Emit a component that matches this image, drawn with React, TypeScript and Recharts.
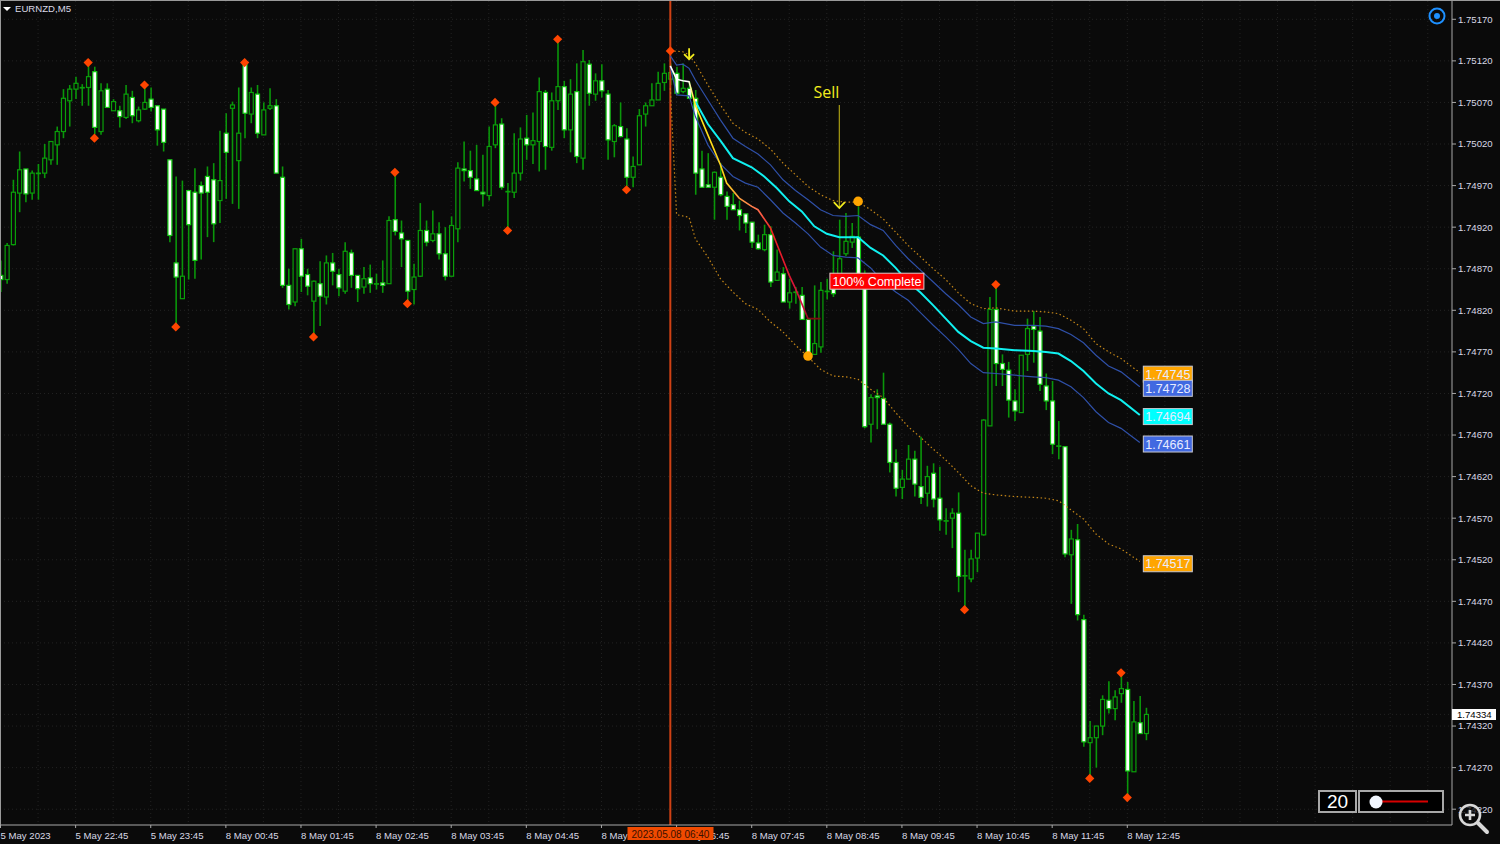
/**
 * EURNZD M5 chart with a regression-channel indicator, dark terminal look.
 * Candles are Bars over [low, high]; the shape splits the pixel range for the body.
 */
import {
  Bar,
  CartesianGrid,
  ComposedChart,
  Line,
  ReferenceDot,
  ReferenceLine,
  XAxis,
  YAxis,
} from 'recharts';

const OPENS = [
  1.74862, 1.74857, 1.74899, 1.74961, 1.7499, 1.74961, 1.74985, 1.74985, 1.75001, 1.75019,
  1.75035, 1.75072, 1.75086, 1.75088, 1.75088, 1.75107, 1.75035, 1.75086, 1.7506, 1.7506,
  1.75052, 1.75076, 1.75048, 1.75062, 1.75074, 1.75066, 1.75062, 1.75001, 1.74877, 1.74834,
  1.74964, 1.74962, 1.7497, 1.74981, 1.74977, 1.74952, 1.75033, 1.75063, 1.75, 1.75117,
  1.75056, 1.7508, 1.75031, 1.75063, 1.75066, 1.7498, 1.7485, 1.7483, 1.74894, 1.74863,
  1.74831, 1.74852, 1.74836, 1.74877, 1.74863, 1.74843, 1.74889, 1.74862, 1.74848, 1.74859,
  1.74852, 1.74853, 1.74852, 1.74929, 1.74913, 1.74904, 1.74845, 1.74861, 1.74916, 1.74904,
  1.74912, 1.74888, 1.74861, 1.74918, 1.7499, 1.74988, 1.74978, 1.74962, 1.74958, 1.75019,
  1.75044, 1.74963, 1.74962, 1.74985, 1.75027, 1.75019, 1.75023, 1.75082, 1.75016, 1.75072,
  1.75089, 1.75037, 1.75083, 1.75003, 1.75116, 1.7508, 1.75096, 1.7508, 1.75023, 1.75041,
  1.75026, 1.7498, 1.74995, 1.75056, 1.75066, 1.75073, 1.75094, 1.75098, 1.75105, 1.75083,
  1.75087, 1.75075, 1.7499, 1.74971, 1.74968, 1.7498, 1.74957, 1.74947, 1.74941, 1.74936,
  1.74926, 1.74901, 1.74893, 1.74911, 1.74856, 1.74864, 1.7483, 1.74842, 1.74838, 1.74809,
  1.74767, 1.74776, 1.74843, 1.74846, 1.7486, 1.74888, 1.74902, 1.74908, 1.74862, 1.74683,
  1.74717, 1.74714, 1.74683, 1.74637, 1.74607, 1.74617, 1.74641, 1.74608, 1.746, 1.74624,
  1.74594, 1.74567, 1.7457, 1.74576, 1.74501, 1.74497, 1.74522, 1.7455, 1.74681, 1.74821,
  1.74756, 1.74748, 1.74711, 1.74697, 1.74767, 1.74801, 1.74795, 1.74729, 1.74711, 1.74657,
  1.74656, 1.74526, 1.74544, 1.74448, 1.743, 1.74306, 1.7432, 1.74351, 1.74341, 1.74359,
  1.74364, 1.74265, 1.74324, 1.74311,
];
const HIGHS = [
  1.7488, 1.74901, 1.74977, 1.75011, 1.7499, 1.74988, 1.74996, 1.7502, 1.75023, 1.75041,
  1.75086, 1.75091, 1.75101, 1.75092, 1.75117, 1.75113, 1.75093, 1.75093, 1.75074, 1.75066,
  1.75091, 1.75084, 1.75065, 1.75091, 1.75088, 1.75066, 1.75062, 1.75001, 1.74981, 1.74976,
  1.74964, 1.74991, 1.74975, 1.74993, 1.74997, 1.75036, 1.75057, 1.75071, 1.75088, 1.75117,
  1.75088, 1.75091, 1.7507, 1.75087, 1.75074, 1.74993, 1.7487, 1.74894, 1.74906, 1.7487,
  1.74856, 1.74879, 1.74886, 1.74889, 1.7487, 1.74902, 1.74893, 1.74862, 1.74872, 1.74875,
  1.74864, 1.7488, 1.74933, 1.74985, 1.74928, 1.74904, 1.74876, 1.74949, 1.74928, 1.7494,
  1.74926, 1.7492, 1.74933, 1.74998, 1.75023, 1.75012, 1.75019, 1.75007, 1.75041, 1.7507,
  1.75051, 1.74973, 1.75033, 1.7504, 1.75055, 1.75058, 1.751, 1.75085, 1.75082, 1.75145,
  1.75096, 1.75098, 1.75117, 1.75133, 1.75121, 1.75105, 1.75116, 1.75085, 1.75044, 1.7507,
  1.75039, 1.75005, 1.75062, 1.7507, 1.75093, 1.75107, 1.75117, 1.75117, 1.75113, 1.75117,
  1.75095, 1.75085, 1.75012, 1.75009, 1.74987, 1.74997, 1.74963, 1.74961, 1.74952, 1.74936,
  1.74926, 1.74911, 1.74923, 1.74921, 1.74893, 1.74872, 1.74858, 1.74848, 1.74848, 1.74809,
  1.7485, 1.74854, 1.74858, 1.74891, 1.74929, 1.74937, 1.74925, 1.74945, 1.74868, 1.74719,
  1.74725, 1.74745, 1.74685, 1.74653, 1.74628, 1.74658, 1.74651, 1.74668, 1.74633, 1.74636,
  1.74632, 1.74582, 1.74582, 1.74601, 1.74532, 1.74532, 1.74552, 1.74689, 1.74836, 1.74848,
  1.74767, 1.74758, 1.74725, 1.74766, 1.7481, 1.74819, 1.74812, 1.74744, 1.74735, 1.74687,
  1.74656, 1.74556, 1.74563, 1.74454, 1.74326, 1.7432, 1.74357, 1.74374, 1.74363, 1.74381,
  1.74373, 1.7435, 1.74356, 1.74342,
];
const LOWS = [
  1.74842, 1.74852, 1.74898, 1.74938, 1.7495, 1.74953, 1.74953, 1.74979, 1.74995, 1.74995,
  1.75027, 1.75041, 1.75074, 1.75066, 1.75066, 1.75032, 1.75031, 1.75064, 1.7506, 1.7504,
  1.7505, 1.75045, 1.75046, 1.75061, 1.75059, 1.75018, 1.75011, 1.74902, 1.74802, 1.74834,
  1.74857, 1.74858, 1.74881, 1.74908, 1.74902, 1.74925, 1.74954, 1.74948, 1.74942, 1.75027,
  1.75045, 1.75027, 1.75031, 1.75061, 1.74985, 1.74847, 1.74821, 1.74825, 1.74842, 1.74838,
  1.7479, 1.74801, 1.74827, 1.7485, 1.74837, 1.7484, 1.74847, 1.7483, 1.7484, 1.74841,
  1.74845, 1.74841, 1.74852, 1.7491, 1.74872, 1.7483, 1.74827, 1.7486, 1.74897, 1.74902,
  1.74881, 1.74856, 1.74861, 1.74902, 1.74975, 1.74966, 1.74964, 1.74945, 1.74952, 1.75015,
  1.74965, 1.74916, 1.74955, 1.74976, 1.75001, 1.74996, 1.74987, 1.74989, 1.75012, 1.75061,
  1.75027, 1.7501, 1.74997, 1.74989, 1.75066, 1.75072, 1.75076, 1.75001, 1.75004, 1.75028,
  1.74969, 1.74968, 1.74995, 1.75041, 1.75066, 1.75073, 1.75084, 1.75091, 1.75079, 1.75081,
  1.75075, 1.74959, 1.74968, 1.74968, 1.74929, 1.74957, 1.74929, 1.74941, 1.74916, 1.74913,
  1.74895, 1.74893, 1.74891, 1.74848, 1.74856, 1.7483, 1.74822, 1.74828, 1.74809, 1.74762,
  1.74767, 1.74769, 1.74833, 1.74836, 1.74858, 1.74885, 1.74895, 1.7486, 1.74678, 1.74661,
  1.74677, 1.74683, 1.74625, 1.74596, 1.74593, 1.74617, 1.74596, 1.74587, 1.74584, 1.74583,
  1.74555, 1.7455, 1.74534, 1.74481, 1.74463, 1.74493, 1.74505, 1.74549, 1.74681, 1.74729,
  1.74729, 1.74691, 1.74687, 1.74697, 1.74747, 1.74757, 1.74723, 1.747, 1.74647, 1.74641,
  1.74523, 1.74467, 1.74447, 1.74295, 1.74259, 1.7427, 1.74309, 1.74335, 1.74327, 1.74348,
  1.74237, 1.74265, 1.74311, 1.74303,
];
const CLOSES = [
  1.74857, 1.74898, 1.74962, 1.74989, 1.7496, 1.74985, 1.74985, 1.75003, 1.75023, 1.75035,
  1.75075, 1.75086, 1.75093, 1.75088, 1.75101, 1.7504, 1.75084, 1.75064, 1.75071, 1.75053,
  1.7508, 1.75054, 1.75061, 1.7507, 1.75064, 1.75037, 1.75022, 1.7491, 1.7486, 1.74861,
  1.74923, 1.7488, 1.74961, 1.74962, 1.74924, 1.74976, 1.7501, 1.75067, 1.75033, 1.75057,
  1.75082, 1.75033, 1.75061, 1.75066, 1.74985, 1.7485, 1.74827, 1.74894, 1.74861, 1.74849,
  1.74855, 1.74837, 1.74877, 1.74867, 1.74847, 1.74891, 1.74862, 1.74846, 1.74858, 1.74852,
  1.74852, 1.7485, 1.74928, 1.74915, 1.74906, 1.74843, 1.7486, 1.74916, 1.74902, 1.74912,
  1.74888, 1.74861, 1.74922, 1.74991, 1.74988, 1.7498, 1.74964, 1.7496, 1.75017, 1.75043,
  1.74968, 1.74963, 1.74985, 1.75026, 1.75019, 1.75024, 1.75083, 1.75017, 1.75072, 1.75089,
  1.75037, 1.7508, 1.75005, 1.75119, 1.75081, 1.75096, 1.75084, 1.75025, 1.75042, 1.75029,
  1.7498, 1.74993, 1.75054, 1.75066, 1.75073, 1.75093, 1.75105, 1.75106, 1.75081, 1.75087,
  1.75075, 1.74985, 1.74968, 1.74968, 1.74986, 1.74959, 1.74945, 1.74941, 1.74934, 1.74925,
  1.74902, 1.74894, 1.74911, 1.74854, 1.74866, 1.7483, 1.74841, 1.74842, 1.74809, 1.74769,
  1.7478, 1.74844, 1.74843, 1.7484, 1.74882, 1.74903, 1.74909, 1.74862, 1.7468, 1.74715,
  1.74715, 1.74683, 1.74637, 1.74606, 1.74617, 1.74641, 1.74611, 1.74595, 1.7462, 1.74593,
  1.74568, 1.74567, 1.74576, 1.745, 1.74501, 1.74521, 1.74552, 1.74688, 1.74821, 1.74756,
  1.74749, 1.74712, 1.74699, 1.74766, 1.74798, 1.74797, 1.74731, 1.74711, 1.74659, 1.74657,
  1.74527, 1.74545, 1.74454, 1.74301, 1.74306, 1.7432, 1.74352, 1.74341, 1.74355, 1.74365,
  1.74266, 1.74325, 1.74311, 1.74334,
];

// bands: bar index of each reading, then the reading
const TAIL_IDX = [139, 141, 143, 145, 147, 149, 151, 153, 155, 157, 159, 162, 165, 167, 169, 171, 173, 175, 177, 179, 182];
const STEP_IDX = [111, 113, 115, 117, 119, 121, 123, 125, 127, 129, 131, 133, 135, 137];

const UPPER_DOT_IDX = [107, 109, 110, ...STEP_IDX, ...TAIL_IDX];
const UPPER_DOT = [
  1.75132, 1.75131, 1.75127, 1.75117, 1.75091, 1.75067, 1.75045, 1.75034, 1.75026, 1.75014, 1.74997, 1.74983, 1.74969,
  1.74959, 1.74952, 1.7495, 1.7495, 1.74941, 1.7493, 1.74914, 1.74898, 1.74884, 1.7487, 1.74857, 1.74841, 1.74828,
  1.74822, 1.74823, 1.74819, 1.74819, 1.74818, 1.74816, 1.74808, 1.74798, 1.7478, 1.7477, 1.74762, 1.74745,
];
const UPPER_IDX = [107, 108, 109, 110, ...STEP_IDX, ...TAIL_IDX];
const UPPER = [
  1.75126, 1.75115, 1.75116, 1.75111, 1.75097, 1.75073, 1.75049, 1.75027, 1.75017, 1.75008, 1.74995, 1.74977, 1.74964,
  1.74953, 1.74941, 1.74934, 1.74933, 1.74934, 1.74923, 1.74916, 1.74898, 1.74882, 1.74868, 1.74854, 1.7484, 1.74827,
  1.74812, 1.74804, 1.74806, 1.74802, 1.74802, 1.74801, 1.74798, 1.74791, 1.74781, 1.74766, 1.74753, 1.74746, 1.74728,
];
const MIDDLE_IDX = [111, 113, 115, 117, 120, 122, 124, 126, 128, 130, 132, 134, 137, ...TAIL_IDX];
const MIDDLE = [
  1.75071, 1.75044, 1.75024, 1.75003, 1.74992, 1.74981, 1.74967, 1.74951, 1.74939, 1.74921, 1.74912, 1.74908, 1.74908,
  1.74895, 1.74886, 1.74871, 1.74854, 1.74841, 1.74826, 1.7481, 1.74794, 1.74783, 1.74775, 1.74774, 1.74772, 1.74771,
  1.7477, 1.74768, 1.74759, 1.74747, 1.74732, 1.7472, 1.74712, 1.74694,
];
const LOWER_IDX = [107, 108, 110, ...STEP_IDX, ...TAIL_IDX];
const LOWER = [
  1.75113, 1.75079, 1.75078, 1.75053, 1.75019, 1.74996, 1.74981, 1.74973, 1.74968, 1.74953, 1.74937, 1.74925, 1.74912,
  1.74896, 1.74886, 1.74884, 1.74883, 1.74871, 1.74854, 1.74842, 1.74832, 1.74817, 1.74802, 1.74788, 1.74773, 1.74756,
  1.74745, 1.74744, 1.74742, 1.7474, 1.74739, 1.74736, 1.74728, 1.74715, 1.74698, 1.74685, 1.74678, 1.74661,
];
const LOWER_DOT_IDX = [107, 108, 110, ...STEP_IDX, ...TAIL_IDX];
const LOWER_DOT = [
  1.75087, 1.74935, 1.74932, 1.74906, 1.74884, 1.74858, 1.74842, 1.74828, 1.74821, 1.74806, 1.74794, 1.74778, 1.74764,
  1.74749, 1.74741, 1.7474, 1.74737, 1.74725, 1.74715, 1.74697, 1.7468, 1.74667, 1.74653, 1.7464, 1.74625, 1.74609,
  1.746, 1.74598, 1.74596, 1.74595, 1.74594, 1.74591, 1.7458, 1.74569, 1.74551, 1.74539, 1.74533, 1.74518,
];
const TARGET_IDX = [107, 108, 109, 110, 111, 113, 115, 116, 118, 120, 121, 123, 124, 126, 127, 128, 129, 131];
const TARGET = [
  1.75114, 1.75098, 1.75096, 1.75095, 1.75067, 1.75031, 1.74995, 1.74973, 1.74955, 1.74945, 1.74941, 1.74919, 1.749,
  1.74862, 1.74846, 1.74828, 1.7481, 1.7481,
];

const DIAMOND_IDX = [14, 15, 23, 28, 39, 50, 63, 65, 79, 81, 89, 100, 107, 154, 159, 174, 179, 180];
const DIAMONDS = [
  1.75118, 1.75027, 1.75091, 1.748, 1.75118, 1.74788, 1.74986, 1.74828, 1.7507, 1.74916, 1.75146, 1.74965, 1.75132,
  1.7446, 1.74851, 1.74257, 1.74384, 1.74234,
];
const SWING_IDX = [129, 137];
const SWINGS = [1.74765, 1.74951];

const BID = 1.74334;
const PRICE_TICKS = [
  1.7517, 1.7512, 1.7507, 1.7502, 1.7497, 1.7492, 1.7487, 1.7482, 1.7477, 1.7472, 1.7467, 1.7462, 1.7457, 1.7452,
  1.7447, 1.7442, 1.7437, 1.7432, 1.7427, 1.7422,
];
const TIME_TICKS = [0, 12, 24, 36, 48, 60, 72, 84, 96, 108, 120, 132, 144, 156, 168, 180];
const TIME_LABELS = [
  '5 May 2023', '5 May 22:45', '5 May 23:45', '8 May 00:45', '8 May 01:45', '8 May 02:45', '8 May 03:45', '8 May 04:45',
  '8 May 05:45', '8 May 06:45', '8 May 07:45', '8 May 08:45', '8 May 09:45', '8 May 10:45', '8 May 11:45', '8 May 12:45',
];
const GRID_X = Array.from({ length: 39 }, (_, k) => k * 6);

const at = (idx: number[], vals: number[], i: number) => {
  const k = idx.indexOf(i);
  return k < 0 ? null : vals[k];
};

const rows = OPENS.map((open, i) => ({
  i,
  open,
  high: HIGHS[i],
  low: LOWS[i],
  close: CLOSES[i],
  upperDot: at(UPPER_DOT_IDX, UPPER_DOT, i),
  upper: at(UPPER_IDX, UPPER, i),
  middle: at(MIDDLE_IDX, MIDDLE, i),
  lower: at(LOWER_IDX, LOWER, i),
  lowerDot: at(LOWER_DOT_IDX, LOWER_DOT, i),
  target: at(TARGET_IDX, TARGET, i),
  diamond: at(DIAMOND_IDX, DIAMONDS, i),
  swing: at(SWING_IDX, SWINGS, i),
}));

const FONT = '"Liberation Sans", sans-serif';
const AXIS_TEXT = '#d9d9e6';
const AXIS_LINE = '#a8a8a8';

function Candle(props: any) {
  const { x, y, width, height, payload } = props;
  const { open, close, high, low } = payload;
  const cx = x + width / 2;
  const py = (v: number) => y + ((high - v) / (high - low)) * height;
  const top = py(Math.max(open, close));
  const bot = py(Math.min(open, close));
  const bear = close < open;
  return (
    <g>
      <line x1={cx} x2={cx} y1={y} y2={y + height} stroke="#0a960a" strokeWidth={1.6} />
      <rect
        x={cx - 2}
        y={top}
        width={4}
        height={Math.max(bot - top, 0.5)}
        fill={bear ? '#ffffff' : '#0a0a0a'}
        stroke={bear ? '#14c814' : '#0aa00a'}
        strokeWidth={1.2}
      />
    </g>
  );
}

function diamondDot(props: any) {
  const { cx, cy, index } = props;
  if (cy == null) return <g key={index} />;
  return (
    <polygon
      key={index}
      points={`${cx - 4.6},${cy} ${cx},${cy - 4.6} ${cx + 4.6},${cy} ${cx},${cy + 4.6}`}
      fill="#ff4500"
    />
  );
}

function swingDot(props: any) {
  const { cx, cy, index } = props;
  if (cy == null) return <g key={index} />;
  return <circle key={index} cx={cx} cy={cy} r={4.8} fill="#ffa500" />;
}

function TimeTick(props: any) {
  const { x, y, index } = props;
  return (
    <text x={Math.max(x, 0)} y={y + 8.5} fill={AXIS_TEXT} fontSize={9.6} fontFamily={FONT} textAnchor="start">
      {TIME_LABELS[index]}
    </text>
  );
}

const priceTag = (text: string, bg: string) => (props: any) => {
  const { cx, cy } = props;
  return (
    <g>
      <rect x={cx + 3.5} y={cy - 6.5} width={49} height={16} fill={bg} stroke="#c8c8d0" strokeWidth={1} />
      <text x={cx + 28} y={cy + 6} fill="#e8ecff" fontSize={12.5} fontFamily={FONT} textAnchor="middle">
        {text}
      </text>
    </g>
  );
};

function SellArrow(props: any) {
  const { cx, cy } = props;
  return (
    <g>
      <text x={cx - 13} y={cy - 110} fill="#f2ec1e" fontSize={16} fontFamily='"Open Sans", sans-serif' textAnchor="middle">
        Sell
      </text>
      <line x1={cx} x2={cx} y1={cy - 103} y2={cy} stroke="#a89c14" strokeWidth={1.2} />
      <path d={`M${cx - 5.5},${cy - 6} L${cx},${cy} L${cx + 5.5},${cy - 6}`} fill="none" stroke="#f2ec1e" strokeWidth={1.8} />
    </g>
  );
}

function EntryArrow(props: any) {
  const { cx, cy } = props;
  return (
    <g>
      <line x1={cx} x2={cx} y1={cy - 11} y2={cy} stroke="#f2ec1e" strokeWidth={1.8} />
      <path d={`M${cx - 5},${cy - 5} L${cx},${cy} L${cx + 5},${cy - 5}`} fill="none" stroke="#f2ec1e" strokeWidth={1.8} />
    </g>
  );
}

function CompleteTag(props: any) {
  const { cx, cy } = props;
  return (
    <g>
      <rect x={cx - 47} y={cy - 8} width={94} height={16} fill="#ff0000" stroke="#e0c8c8" strokeWidth={1} />
      <text x={cx} y={cy + 4.5} fill="#ffffff" fontSize={12.5} fontFamily={FONT} textAnchor="middle">
        100% Complete
      </text>
    </g>
  );
}

function Chrome() {
  return (
    <svg width={1500} height={844} style={{ position: 'absolute', left: 0, top: 0, pointerEvents: 'none' }}>
      <line x1={0} x2={1500} y1={0.5} y2={0.5} stroke="#9a9a9a" />
      <line x1={0.5} x2={0.5} y1={0} y2={825} stroke="#9a9a9a" />
      <path d="M3,7 L11,7 L7,11 Z" fill="#ffffff" />
      <text x={15} y={12} fill={AXIS_TEXT} fontSize={9.6} fontFamily={FONT}>EURNZD,M5</text>
      <circle cx={1437} cy={16} r={7.5} fill="none" stroke="#1e90ff" strokeWidth={2} />
      <circle cx={1437} cy={16} r={3} fill="#1e90ff" />

      <rect x={1452} y={709} width={44} height={11} fill="#ffffff" />
      <text x={1457} y={718} fill="#000000" fontSize={9.6} fontFamily={FONT}>1.74334</text>

      <rect x={627.5} y={827} width={86} height={13} fill="#f04a00" />
      <text x={670.5} y={837.5} fill="#3a1000" fontSize={10} fontFamily={FONT} textAnchor="middle">2023.05.08 06:40</text>

      <rect x={1319} y={791} width={37} height={21} fill="#000" stroke="#a8a8a8" strokeWidth={2} />
      <rect x={1359} y={791} width={84} height={21} fill="#000" stroke="#a8a8a8" strokeWidth={2} />
      <text x={1337.5} y={808} fill="#ffffff" fontSize={19} fontFamily={FONT} textAnchor="middle">20</text>
      <line x1={1380} x2={1428} y1={801.5} y2={801.5} stroke="#d80000" strokeWidth={2} />
      <circle cx={1376} cy={802} r={6.5} fill="#f2f7ff" />

      <circle cx={1470} cy={815} r={10} fill="#0a0a0a" fillOpacity={0.75} stroke="#d8d8d8" strokeWidth={2.6} />
      <line x1={1478} x2={1487} y1={823} y2={832} stroke="#d8d8d8" strokeWidth={4} strokeLinecap="round" />
      <path d="M1470,810 V820 M1465,815 H1475" stroke="#d8d8d8" strokeWidth={2.6} />
    </svg>
  );
}

export default function App() {
  return (
    <div style={{ position: 'absolute', left: 0, top: 0, width: 1500, height: 844, background: '#0a0a0a', overflow: 'hidden' }}>
      <ComposedChart width={1500} height={844} data={rows} margin={{ top: 1, right: 0, bottom: 0, left: 0 }}>
        <defs>
          <linearGradient id="targetFade" x1="0" y1="0" x2="1" y2="0">
            <stop offset="0.12" stopColor="#ffffff" />
            <stop offset="0.16" stopColor="#ffe81a" />
            <stop offset="0.36" stopColor="#ffd21a" />
            <stop offset="0.46" stopColor="#ffa040" />
            <stop offset="0.58" stopColor="#ff7050" />
            <stop offset="0.68" stopColor="#f02020" />
            <stop offset="0.88" stopColor="#d01040" />
            <stop offset="0.93" stopColor="#801010" />
            <stop offset="1" stopColor="#801010" />
          </linearGradient>
        </defs>
        <CartesianGrid stroke="#232323" strokeDasharray="1 3" verticalValues={GRID_X} horizontalValues={[...PRICE_TICKS, BID]} />
        <XAxis
          dataKey="i"
          type="number"
          domain={[-0.08, 231.87]}
          allowDataOverflow
          ticks={TIME_TICKS}
          interval={0}
          height={19}
          tickSize={3}
          stroke={AXIS_LINE}
          tick={<TimeTick />}
        />
        <YAxis
          orientation="right"
          domain={[1.74201, 1.75192]}
          allowDataOverflow
          ticks={PRICE_TICKS}
          interval={0}
          width={48}
          tickSize={4}
          stroke={AXIS_LINE}
          tickFormatter={(v: number) => v.toFixed(5)}
          tick={{ fill: AXIS_TEXT, fontSize: 9.6, fontFamily: FONT }}
        />
        <Bar
          dataKey={(d: any) => [d.low, d.high]}
          barSize={5}
          shape={<Candle />}
          isAnimationActive={false}
        />
        <ReferenceLine x={107} stroke="#cf4114" strokeWidth={2} />
        <Line dataKey="upperDot" stroke="#c48618" strokeWidth={1.2} strokeDasharray="1.5 2.5" dot={false} connectNulls isAnimationActive={false} />
        <Line dataKey="lowerDot" stroke="#c48618" strokeWidth={1.2} strokeDasharray="1.5 2.5" dot={false} connectNulls isAnimationActive={false} />
        <Line dataKey="upper" stroke="#2f50a8" strokeWidth={1.2} dot={false} connectNulls isAnimationActive={false} />
        <Line dataKey="lower" stroke="#2f50a8" strokeWidth={1.2} dot={false} connectNulls isAnimationActive={false} />
        <Line dataKey="middle" stroke="#10f0f0" strokeWidth={2} dot={false} connectNulls isAnimationActive={false} />
        <Line dataKey="target" stroke="url(#targetFade)" strokeWidth={1.6} dot={false} connectNulls isAnimationActive={false} />
        <Line dataKey="diamond" stroke="none" dot={diamondDot} isAnimationActive={false} />
        <Line dataKey="swing" stroke="none" dot={swingDot} isAnimationActive={false} />
        <ReferenceDot x={110} y={1.75122} shape={EntryArrow} />
        <ReferenceDot x={134} y={1.74943} shape={SellArrow} />
        <ReferenceDot x={140} y={1.74855} shape={CompleteTag} />
        <ReferenceDot x={182} y={1.74745} shape={priceTag('1.74745', '#ffa500')} />
        <ReferenceDot x={182} y={1.74728} shape={priceTag('1.74728', '#4169e1')} />
        <ReferenceDot x={182} y={1.74694} shape={priceTag('1.74694', '#00ffff')} />
        <ReferenceDot x={182} y={1.74661} shape={priceTag('1.74661', '#4169e1')} />
        <ReferenceDot x={182} y={1.74517} shape={priceTag('1.74517', '#ffa500')} />
      </ComposedChart>
      <Chrome />
    </div>
  );
}
